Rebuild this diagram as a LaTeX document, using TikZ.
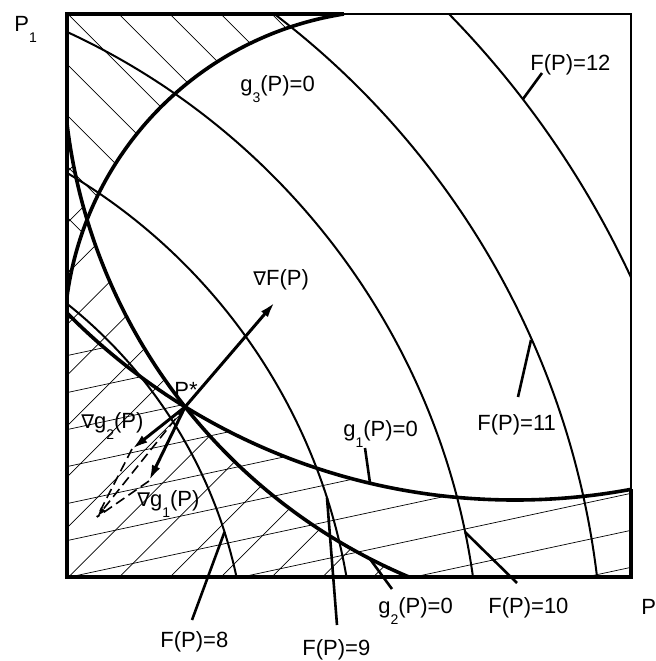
\documentclass[tikz,border=0pt]{standalone}
\usepackage{fontspec}
\setmainfont{Liberation Sans}
\newfontfamily\dejavu{DejaVu Sans}
\usetikzlibrary{arrows.meta}
\newcommand{\lowsub}[1]{\raisebox{-5.5pt}{\fontsize{7}{7}\selectfont #1}}
\newcommand{\nab}{{\dejavu\fontsize{9.5}{9.5}\selectfont ∇}}
\begin{document}
\begin{tikzpicture}[x=0.5pt,y=-0.5pt,
  lbl/.style={font=\fontsize{11}{13}\selectfont, inner sep=0pt, anchor=base west},
  fline/.style={line width=1pt},
  gline/.style={line width=1.8pt},
  hatch/.style={line width=0.35pt},
  leader/.style={line width=1.3pt},
  vec/.style={line width=1.5pt, -{Latex[length=8pt,width=4.4pt]}},
  dvec/.style={line width=0.8pt, dash pattern=on 5pt off 2.5pt},
]
\useasboundingbox (0,0) rectangle (656,661);
\coordinate (TL) at (67,14);
\coordinate (TR) at (631,14);
\coordinate (BR) at (631,577);
\coordinate (BL) at (67,577);
\coordinate (G3end) at (344,14);
\coordinate (G1end) at (631,489.2);
\coordinate (Pst) at (185,407);

% hatching for g3 (top-left)
\begin{scope}
\clip (67,14) -- (344,14) -- plot[domain=261.1:187.7, samples=60] ({395+331*cos(\x)},{341+331*sin(\x)}) -- cycle;
\foreach \hc in {-309,-258,...,201} \draw[hatch] (0,\hc) -- (700,700+\hc);
\end{scope}
% hatching for g2 (lower-left)
\begin{scope}
\clip (67,124.8) -- plot[domain=173:112.8, samples=80] ({628+565*cos(\x)},{56+565*sin(\x)}) -- (67,577) -- cycle;
\foreach \n in {-2,...,14} \draw[hatch] ({290+50.8*\n},0) -- ({290+50.8*\n-700},700);
\end{scope}
% hatching for g1 (bottom strip)
\begin{scope}
\clip (67,313.4) -- plot[domain=135.31:79.39, samples=80] ({515+630*cos(\x)},{-130+630*sin(\x)}) -- (631,577) -- (67,577) -- cycle;
\foreach \n in {-1,...,9} \draw[hatch] (0,{370+37*\n}) -- (700,{370+37*\n-0.215*700});
\end{scope}

% contours of F and constraint curves
\begin{scope}
\clip (TL) rectangle (BR);
\foreach \r in {477,585,710,833,949} \draw[fline] (-230,677) circle[radius=\r];
\draw[gline] (515,-130) circle[radius=630];
\draw[gline] (628,56) circle[radius=565];
\end{scope}
\draw[gline] plot[domain=187.7:261.1, samples=80] ({395+331*cos(\x)},{341+331*sin(\x)});

% frame
\draw[line width=1pt] (TL) rectangle (BR);
\draw[line width=2pt, line join=miter] (G3end) -- (TL) -- (BL) -- (BR) -- (G1end);

% gradient vectors
\coordinate (Ftip) at (275,302);
\coordinate (G2tip) at (132,449);
\coordinate (G1tip) at (149,481);
\coordinate (Sum) at (97,517);
\draw[vec] (Pst) -- (Ftip);
\draw[vec] (Pst) -- (G2tip);
\draw[vec] (Pst) -- (G1tip);
\draw[dvec] (G2tip) -- (Sum);
\draw[dvec] (G1tip) -- (Sum);
\draw[dvec, -{Latex[length=5pt,width=3pt]}] (Pst) -- (Sum);

% labels
\node[lbl] (lP1) at (14,31) {P\lowsub{1}};
\node[lbl] (lP2) at (641,614) {P};
\node[lbl] (lg3) at (240,91) {g\lowsub{3}(P)=0};
\node[lbl] (lF12) at (530,70) {F(P)=12};
\node[lbl] (lgF) at (253,285) {\nab F(P)};
\node[lbl] (lPst) at (174,397) {P*};
\node[lbl] (lgg2) at (81,428) {\nab g\lowsub{2}(P)};
\node[lbl] (lgg1) at (137,506) {\nab g\lowsub{1}(P)};
\node[lbl] (lg1) at (343,436) {g\lowsub{1}(P)=0};
\node[lbl] (lF11) at (477,430) {F(P)=11};
\node[lbl] (lF10) at (488,613) {F(P)=10};
\node[lbl] (lg2) at (378,613) {g\lowsub{2}(P)=0};
\node[lbl] (lF9) at (302,655) {F(P)=9};
\node[lbl] (lF8) at (160,647) {F(P)=8};

% leaders
\coordinate (a12) at (542,73);  \coordinate (b12) at (523,99);
\coordinate (a11) at (518,397); \coordinate (b11) at (531,340);
\coordinate (a10) at (517,583); \coordinate (b10) at (465,532);
\coordinate (a9) at (337,625);  \coordinate (b9) at (327,498);
\coordinate (a8) at (192,620);  \coordinate (b8) at (224.5,532);
\coordinate (ag2) at (392,589); \coordinate (bg2) at (370,559);
\coordinate (ag1) at (365,448); \coordinate (bg1) at (370,483);
\foreach \p in {12,11,10,9,8,g2,g1} \draw[leader] (a\p) -- (b\p);
\end{tikzpicture}
\end{document}
